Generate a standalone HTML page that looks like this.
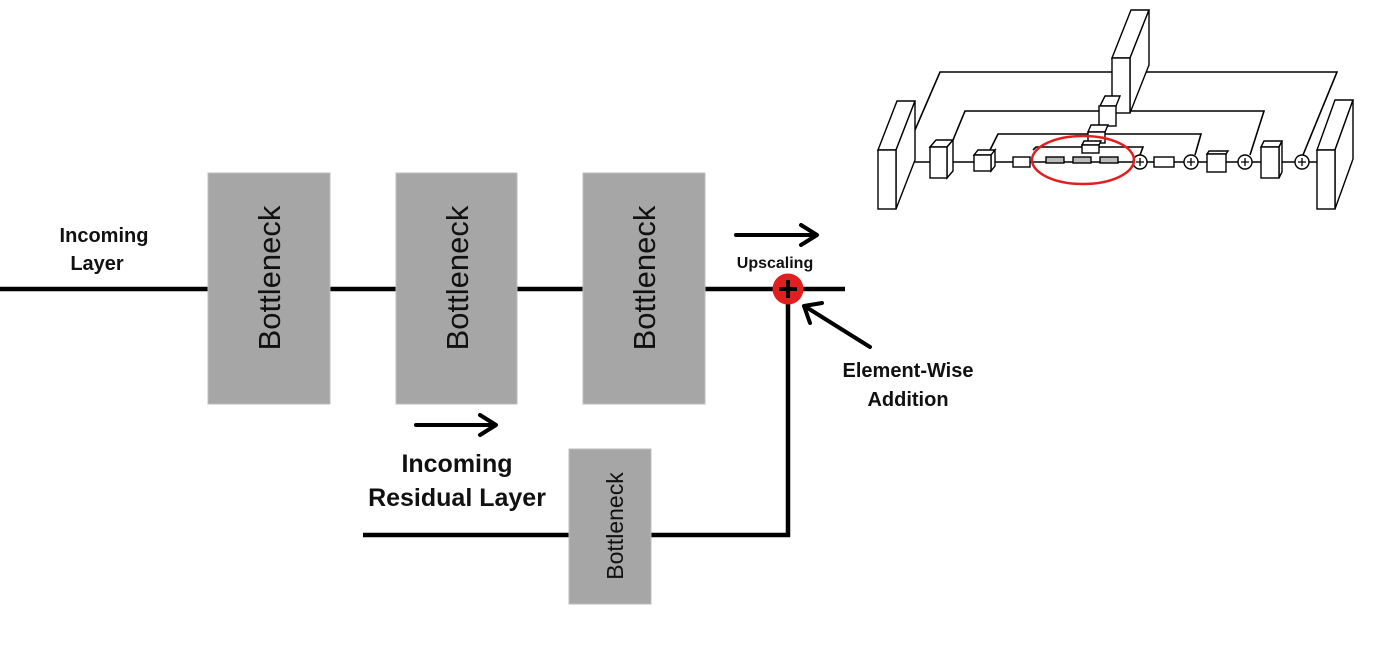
<!DOCTYPE html>
<html><head><meta charset="utf-8"><style>
html,body{margin:0;padding:0;background:#fff;width:1400px;height:660px;overflow:hidden}
svg{display:block}
.b{font-family:"Liberation Sans",sans-serif;font-weight:bold;fill:#111}
.r{font-family:"Liberation Sans",sans-serif;fill:#111}
</style></head><body>
<svg width="1400" height="660" viewBox="0 0 1400 660" xmlns="http://www.w3.org/2000/svg">
<g stroke="#000" stroke-width="4.5" fill="none">
<line x1="0" y1="289" x2="845" y2="289"/>
<polyline points="363,535 788,535 788,289"/>
</g>
<g fill="#a6a6a6" stroke="#bdbdbd" stroke-width="1">
<rect x="208" y="173" width="122" height="231"/>
<rect x="396" y="173" width="121" height="231"/>
<rect x="583" y="173" width="122" height="231"/>
<rect x="569" y="449" width="82" height="155"/>
</g>
<g class="r" font-size="31" text-anchor="middle">
<text transform="translate(280,278) rotate(-90)">Bottleneck</text>
<text transform="translate(468,278) rotate(-90)">Bottleneck</text>
<text transform="translate(655,278) rotate(-90)">Bottleneck</text>
<text font-size="23" transform="translate(623,526) rotate(-90)">Bottleneck</text>
</g>
<circle cx="788" cy="289" r="15.5" fill="#e02020"/>
<g stroke="#000" stroke-width="4"><line x1="779" y1="289" x2="797" y2="289"/><line x1="788" y1="280" x2="788" y2="298"/></g>
<g stroke="#000" stroke-width="4" fill="none" stroke-linecap="round" stroke-linejoin="round">
<line x1="736" y1="235" x2="816" y2="235"/><polyline points="801,225 817,235 801,245"/>
<line x1="416" y1="425" x2="495" y2="425"/><polyline points="480,415 496,425 480,435"/>
<line x1="870" y1="347" x2="806" y2="307"/><polyline points="810,323 804,306 822,303"/>
</g>
<g class="b" text-anchor="middle">
<text x="104" y="242" font-size="20">Incoming</text>
<text x="97" y="270" font-size="20">Layer</text>
<text x="775" y="268" font-size="16">Upscaling</text>
<text x="908" y="377" font-size="20">Element-Wise</text>
<text x="908" y="406" font-size="20">Addition</text>
<text x="457" y="472" font-size="25">Incoming</text>
<text x="457" y="506" font-size="25">Residual Layer</text>
</g>
<g stroke="#000" stroke-width="1.6" fill="none">
<polyline points="915,130 940,72 1337,72 1303,155"/>
<polyline points="953,140 965,111 1264,111 1250,155"/>
<polyline points="990,150 998,134 1201,134 1195,155"/>
<polyline points="1033,150 1036,147 1143,147 1140,155"/>
<line x1="896" y1="162" x2="1317" y2="162"/>
</g>
<g stroke="#000" stroke-width="1.4" fill="#fff">
<polygon points="878,150 897,101 915,101 896,150"/><polygon points="896,150 915,101 915,160 896,209"/><rect x="878" y="150" width="18" height="59"/>
<polygon points="1317,150 1335,100 1353,100 1335,150"/><polygon points="1335,150 1353,100 1353,159 1335,209"/><rect x="1317" y="150" width="18" height="59"/>
<polygon points="1112,58 1131,10 1149,10 1130,58"/><polygon points="1130,58 1149,10 1149,65 1130,113"/><rect x="1112" y="58" width="18" height="55"/>
<polygon points="1100,106 1105,96 1120,96 1116,106"/><rect x="1099" y="106" width="17" height="20"/>
<polygon points="1088,132 1091,125 1108,125 1105,132"/><rect x="1088" y="132" width="17" height="11"/>
<polygon points="1082,145 1084,141 1101,141 1099,145"/><rect x="1082" y="145" width="17" height="8"/>
<polygon points="930,147 936,140 953,140 947,147"/><polygon points="947,147 953,140 953,171 947,178"/><rect x="930" y="147" width="17" height="31"/>
<polygon points="974,155 978,150 995,150 991,155"/><polygon points="991,155 995,150 995,166 991,171"/><rect x="974" y="155" width="17" height="16"/>
<rect x="1013" y="157" width="17" height="10"/>
<rect x="1046" y="157" width="18" height="6" fill="#bbb"/><rect x="1073" y="157" width="18" height="6" fill="#bbb"/><rect x="1100" y="157" width="18" height="6" fill="#bbb"/>
<rect x="1154" y="157" width="20" height="10"/>
<polygon points="1207,154 1209,151 1228,151 1226,154"/><rect x="1207" y="154" width="19" height="18"/>
<polygon points="1261,147 1264,141 1282,141 1279,147"/><polygon points="1279,147 1282,141 1282,172 1279,178"/><rect x="1261" y="147" width="18" height="31"/>
</g>
<g stroke="#000" stroke-width="1.4" fill="#fff">
<circle cx="1140" cy="162" r="7"/><circle cx="1191" cy="162" r="7"/><circle cx="1245" cy="162" r="7"/><circle cx="1302" cy="162" r="7"/>
</g>
<g stroke="#000" stroke-width="1.3">
<path d="M1136,162h8M1140,158v8M1187,162h8M1191,158v8M1241,162h8M1245,158v8M1298,162h8M1302,158v8"/>
</g>
<ellipse cx="1083" cy="160" rx="51" ry="24" fill="none" stroke="#e02020" stroke-width="2.5"/>
</svg>
</body></html>
